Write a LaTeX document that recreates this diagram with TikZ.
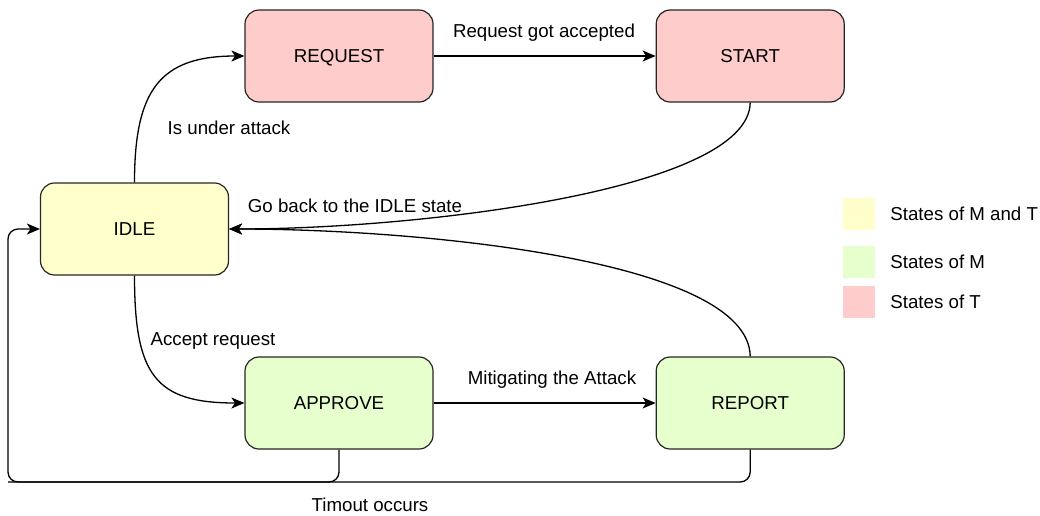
\documentclass[tikz,border=0pt]{standalone}
\usepackage{fontspec}
\setmainfont{Liberation Sans}
\usetikzlibrary{positioning, calc}
\usetikzlibrary{arrows.meta}
\definecolor{bothfill}{HTML}{FFFFCC}
\definecolor{mfill}{HTML}{E6FFCC}
\definecolor{tfill}{HTML}{FFCCCC}
\tikzstyle{statebox}=[rectangle,rounded corners=14pt,draw=black!85,line width=1.2pt,minimum width=188pt,minimum height=92pt,text height=13.4pt,text depth=0pt,font=\fontsize{18.7}{22}\selectfont]
\tikzstyle{edgepath} = [-{Stealth[length=13pt,width=11pt,inset=3.5pt]},line width=1.3pt,rounded corners=10pt]
\tikzstyle{keybox}=[rectangle,minimum size=32pt,inner sep=0pt]
\tikzstyle{lbl}=[inner sep=0pt,font=\fontsize{18.7}{22}\selectfont]

\begin{document}
\begin{tikzpicture}[x=1pt,y=-1pt]
        \useasboundingbox (0,0) rectangle (1040,515);
        \node[statebox, fill=bothfill] (idle) at (134.5,229) {IDLE};
        \node[statebox, fill=tfill] (request) at (339,56) {REQUEST};
        \node[statebox, fill=tfill, right =222pt of request] (start) {START};
        \node[statebox, fill=mfill] (approve) at (339,403) {APPROVE};
        \node[statebox, fill=mfill, right =222pt of approve] (report) {REPORT};
        \coordinate (loopcorner) at (8,482);

        % legend
        \node[keybox, fill=bothfill] (keyboth) at (859,214) {};
        \node[keybox, fill=mfill] (keym) at (859,262) {};
        \node[keybox, fill=tfill] (keyt) at (859,302) {};
        \node[lbl, right =15pt of keyboth] (keybothtext) {States of M and T};
        \node[lbl, right =15pt of keym] (keymtext) {States of M};
        \node[lbl, right =15pt of keyt] (keyttext) {States of T};

        % labels
        \node[lbl] (attacklbl) at (229,128) {Is under attack};
        \node[lbl] (acceptedlbl) at (544,33) {Request got accepted};
        \node[lbl] (backlbl) at (355,206) {Go back to the IDLE state};
        \node[lbl] (acceptlbl) at (213,341) {Accept request};
        \node[lbl] (mitigatelbl) at (552,380) {Mitigating the Attack};
        \node[lbl] (timeoutlbl) at (370,505) {Timout occurs};

        \draw[edgepath] (idle.north) .. controls (134.5,90) and (160,56) .. (request.west);
        \draw[edgepath] (request) -- (start);
        \draw[edgepath] (start.south) .. controls (749,190) and (420,229) .. (idle.east);
        \draw[edgepath] (report.north) .. controls (749,260) and (420,229) .. (idle.east);
        \draw[edgepath] (idle.south) .. controls (134.5,375) and (155,403) .. (approve.west);
        \draw[edgepath] (approve) -- (report);
        \draw[edgepath] (approve.south) |- (loopcorner) |- (idle.west);
        \draw[edgepath,-] (report.south) |- (loopcorner);
    \end{tikzpicture}
\end{document}
